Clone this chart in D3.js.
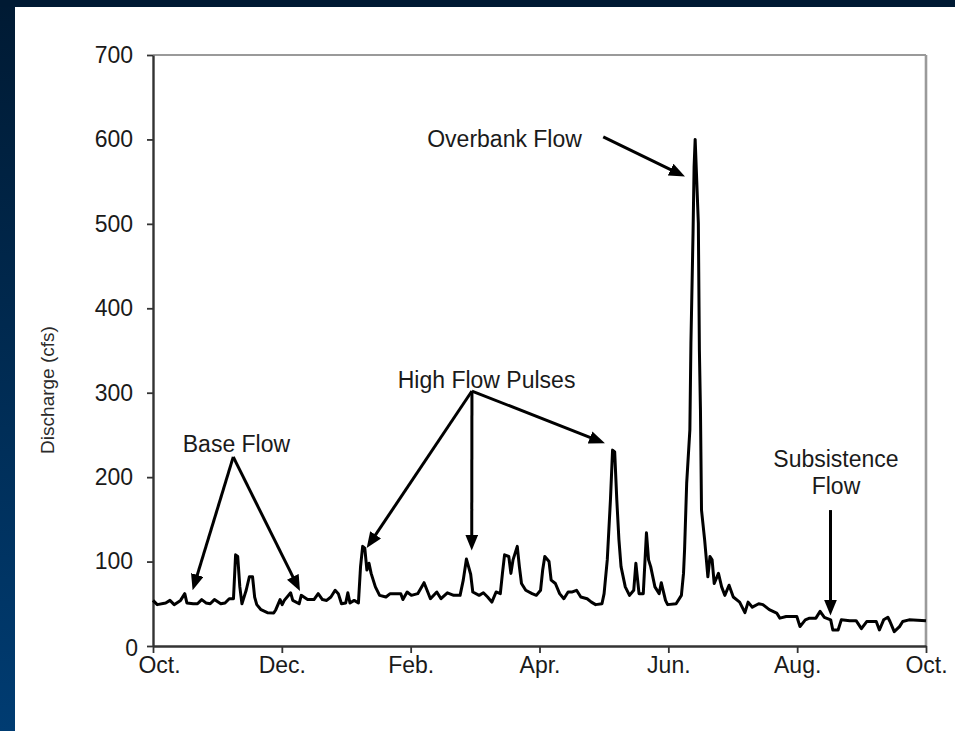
<!DOCTYPE html>
<html><head><meta charset="utf-8">
<script src="https://cdn.jsdelivr.net/npm/d3@7"></script>
<style>html,body{margin:0;padding:0;background:#001a33;overflow:hidden} svg{display:block}</style>
</head><body><svg id="c" width="955" height="731"></svg>
<script>
// ---- data (day of water year from Oct. 1, discharge in cfs) ----
const dischargeSeries = [
 [0,54],[2,49],[6,51],[8,54],[10,49],[13,54],[15,62],[16,51],[19,50],[21,50],
 [23,55],[25,51],[27,50],[29,55],[32,50],[34,51],[36,56],[38,56],[39,108],[40,106],
 [41,70],[42,50],[43.5,62],[44,66],[45.5,82],[47,82],[48,58],[49,49],[51,43],[54,39.5],
 [57,39],[58,43],[60,55],[61,49],[62,54],[65,63],[66,54],[69,50],[70,60],[73,55],
 [76,55],[78,62],[80,55],[82,54],[84,58],[86,66],[87.5,62],[89,50],[91,51],[92,63],
 [93,51],[95,54],[97,51],[98,94],[99,118],[100,116],[101,90],[102,98],[103,86],[105,70],
 [107,60],[110,58],[112,62],[117,62],[118,55],[120,64],[122,60],[125,62],[128,75],[131,56],
 [134,64],[136,56],[139,63],[142,60],[145,60],[146.5,78],[148,103],[149,94],[150,85],[151,64],
 [154,60],[156,63],[158,58],[160,52],[162,64],[164,62],[165,86],[166,108],[168,106],[169,86],
 [170,102],[172,118],[173,94],[174,74],[176,66],[179,62],[181,60],[183,66],[184,90],[185,106],
 [187,100],[188,78],[190,74],[192,62],[194,56],[196,64],[198,64],[200,66],[202,58],[205,56],
 [207,52],[209,49],[212,50],[213,62],[214.5,102],[216,173],[217,232],[218,230],[219,173],[220,126],
 [221,94],[223,70],[225,60],[227,66],[228,98],[229.5,62],[231.5,62],[233,134],[234,102],[235,94],
 [237,70],[239,62],[240,75],[242,54],[243,49],[247,50],[249.5,60],[250.5,86],[251,114],[252,193],
 [253.5,256],[254,359],[255,489],[255.5,568],[256,600],[257.5,501],[258,350],[258.5,280],[259,161],[260.5,125],
 [262,82],[263,106],[264,102],[265,74],[267,86],[268.5,70],[270,60],[272,72],[274,58],[277,52],
 [279.5,39.5],[281,52],[283,46],[286,50],[288,49],[291,43],[294.5,39],[296,33],[299,35],[304,35],
 [305.5,23],[308,31],[310,33],[313,33],[315,41],[317,34],[320,31],[321,19],[323.5,19],[325,31],
 [329,30],[332,30],[334.5,20.5],[337,29],[341.5,29],[343,19],[345,31],[347,34],[348,29],[350,17],
 [352.5,23],[354,29],[357,31],[365,30]
];
const monthLabels = ["Oct.","Dec.","Feb.","Apr.","Jun.","Aug.","Oct."];
const yTickValues = [0,100,200,300,400,500,600,700];
const yAxisTitle = "Discharge (cfs)";
// annotation labels: [text lines], anchor in data units
const annotationLabels = [
 {lines:["Base Flow"], day:39.4, cfs:230},
 {lines:["High Flow Pulses"], day:157.5, cfs:306},
 {lines:["Overbank Flow"], day:166, cfs:591},
 {lines:["Subsistence","Flow"], day:322.5, cfs:212}
];
// arrows: from [day,cfs] to [day,cfs]
const annotationArrows = [
 [[37.9,224],[18.7,66]],
 [[37.9,224],[69.4,65]],
 [[150.6,302],[100.9,116]],
 [[150.6,302],[150.5,113]],
 [[150.6,302],[213.4,240]],
 [[212.6,603],[251.2,556]],
 [[319.9,161],[319.9,36]]
];

// ---- drawing ----
const W = 955, H = 731;
const svg = d3.select("#c");
const defs = svg.append("defs");
const grad = defs.append("linearGradient").attr("id","bg").attr("x1",0).attr("y1",0).attr("x2",0).attr("y2",1);
grad.append("stop").attr("offset","0%").attr("stop-color","#001a33");
grad.append("stop").attr("offset","100%").attr("stop-color","#003c72");
svg.append("rect").attr("width",W).attr("height",H).attr("fill","url(#bg)");
svg.append("rect").attr("x",0).attr("y",0).attr("width",W).attr("height",7).attr("fill","#001a33");
svg.append("rect").attr("x",15).attr("y",7).attr("width",W-15).attr("height",H-7).attr("fill","#ffffff");

defs.append("marker").attr("id","ah").attr("viewBox","0 0 16 13")
  .attr("refX",16).attr("refY",6.5).attr("markerWidth",16).attr("markerHeight",13)
  .attr("markerUnits","userSpaceOnUse").attr("orient","auto")
  .append("path").attr("d","M0,0 L16,6.5 L0,13 Z").attr("fill","#000");

const L = 153, R = 926, T = 55, B = 646;
const x = d3.scaleLinear().domain([0,365]).range([L,R]);
const y = d3.scaleLinear().domain([0,700]).range([B,T]);

const font = "'Liberation Sans', Arial, sans-serif";
const textColor = "#1a1a1a";

// frame top / right
svg.append("line").attr("x1",L).attr("x2",R).attr("y1",T).attr("y2",T).attr("stroke","#9a9a9a").attr("stroke-width",2.2);
svg.append("line").attr("x1",R).attr("x2",R).attr("y1",T).attr("y2",B).attr("stroke","#9a9a9a").attr("stroke-width",2.6);

// axes
const xTicks = d3.range(monthLabels.length).map(i => i*365/(monthLabels.length-1));
const xAxis = d3.axisBottom(x).tickValues(xTicks).tickFormat((d,i)=>monthLabels[i]).tickSize(7).tickPadding(4).tickSizeOuter(0);
const gx = svg.append("g").attr("transform",`translate(0,${B})`).call(xAxis);
const yAxis = d3.axisLeft(y).tickValues(yTickValues).tickFormat(d3.format("d")).tickSize(6).tickPadding(14).tickSizeOuter(0);
const gy = svg.append("g").attr("transform",`translate(${L},0)`).call(yAxis);
[gx,gy].forEach(g=>{
  g.select(".domain").attr("stroke","#333").attr("stroke-width",2.4);
  g.selectAll(".tick line").attr("stroke","#333").attr("stroke-width",1.8);
  g.selectAll(".tick text").attr("font-family",font).attr("font-size",23).attr("fill",textColor);
});
gy.selectAll(".tick text").filter(d=>d===0).attr("dx",5).attr("dy","0.4em");
gx.selectAll(".tick text").filter((d,i)=>i===0).attr("dx",6);

// y title
svg.append("text").attr("transform",`translate(54,390) rotate(-90)`)
  .attr("text-anchor","middle").attr("font-family",font).attr("font-size",19)
  .attr("fill","#2a2a2a").text(yAxisTitle);

// series
const line = d3.line().x(d=>x(d[0])).y(d=>y(d[1]));
svg.append("path").datum(dischargeSeries).attr("d",line).attr("fill","none")
  .attr("stroke","#000").attr("stroke-width",3).attr("stroke-linejoin","round");

// annotations
annotationLabels.forEach(a=>{
  const t = svg.append("text").attr("font-family",font).attr("font-size",23).attr("fill",textColor)
    .attr("text-anchor","middle");
  a.lines.forEach((ln,i)=>{
    t.append("tspan").attr("x",x(a.day)).attr("y",y(a.cfs)+i*27).text(ln);
  });
});
annotationArrows.forEach(([s,e])=>{
  const x1=x(s[0]), y1=y(s[1]), x2=x(e[0]), y2=y(e[1]);
  const len=Math.hypot(x2-x1,y2-y1), k=(len-8)/len;
  svg.append("line").attr("x1",x1).attr("y1",y1).attr("x2",x1+(x2-x1)*k).attr("y2",y1+(y2-y1)*k)
    .attr("stroke","#000").attr("stroke-width",3);
  svg.append("line").attr("x1",x1+(x2-x1)*k).attr("y1",y1+(y2-y1)*k).attr("x2",x2).attr("y2",y2)
    .attr("stroke","none").attr("marker-end","url(#ah)");
});
</script></body></html>
